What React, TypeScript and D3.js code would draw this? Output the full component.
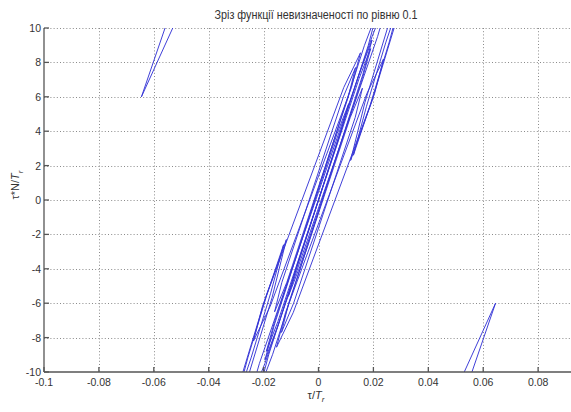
import React from "react";
import * as d3 from "d3";

// Plot frame
const W = 571;
const H = 412;
const X_RANGE: [number, number] = [44, 593];
const Y_RANGE: [number, number] = [372, 28];

// Axis domains and ticks
const xDomain: [number, number] = [-0.1, 0.1];
const yDomain: [number, number] = [-10, 10];
const xTickValues = [-0.1, -0.08, -0.06, -0.04, -0.02, 0, 0.02, 0.04, 0.06, 0.08];
const xTickLabels = ["-0.1", "-0.08", "-0.06", "-0.04", "-0.02", "0", "0.02", "0.04", "0.06", "0.08"];
const yTickValues = [-10, -8, -6, -4, -2, 0, 2, 4, 6, 8, 10];
const yTickLabels = ["-10", "-8", "-6", "-4", "-2", "0", "2", "4", "6", "8", "10"];

const titleText = "Зріз функції невизначеності по рівню 0.1";

// Level-0.1 contour loops of the ambiguity function: each loop runs from a
// lower tip to an upper tip (τ/T_r, τ·N/T_r), with a half width in τ/T_r
// and the fractions along the loop where it reaches full width.
const loopLowX = [-0.0645, 0.0395, -0.033, 0.0117, -0.0237, -0.0153, -0.016, -0.0135, -0.027, -0.0305, 0.0127, -0.0215, -0.0195, -0.019, -0.011];
const loopLowY = [6, -16, -13.5, 2.3, -8.2, -8.56, -6.5, -7.7, -12.5, -12, 2.6, -11, -9.3, -8.8, -5.6];
const loopHighX = [-0.0395, 0.0645, -0.0117, 0.033, 0.0153, 0.0237, 0.0135, 0.016, 0.027, -0.0127, 0.0305, 0.0195, 0.0215, 0.011, 0.019];
const loopHighY = [16, -6, -2.3, 13.5, 8.56, 8.2, 7.7, 6.5, 12.5, -2.6, 12, 9.3, 11, 5.6, 8.8];
const loopHalfWidth = [0.0014, 0.0014, 0.0012, 0.0012, 0.0014, 0.0014, 0.0009, 0.0009, 0.001, 0.0006, 0.0006, 0.0007, 0.0007, 0.0006, 0.0006];
const loopWideFrom = [0.4, 0.6, 0.3, 0.3, 0.12, 0.12, 0.12, 0.12, 0.12, 0.3, 0.3, 0.1, 0.1, 0.12, 0.12];
const loopWideTo = [0.4, 0.6, 0.7, 0.7, 0.88, 0.88, 0.88, 0.88, 0.88, 0.7, 0.7, 0.9, 0.9, 0.88, 0.88];

export default function App() {
  const x = d3.scaleLinear().domain(xDomain).range(X_RANGE);
  const y = d3.scaleLinear().domain(yDomain).range(Y_RANGE);

  const line = d3
    .line<[number, number]>()
    .x((d) => x(d[0]))
    .y((d) => y(d[1]))
    .curve(d3.curveLinearClosed);

  const loops = loopLowX.map((lx, i) => {
    const ly = loopLowY[i];
    const hx = loopHighX[i];
    const hy = loopHighY[i];
    const w = loopHalfWidth[i];
    const at = (t: number): [number, number] => [lx + (hx - lx) * t, ly + (hy - ly) * t];
    const a = at(loopWideFrom[i]);
    const b = at(loopWideTo[i]);
    const pts: [number, number][] = [
      [lx, ly],
      [a[0] - w, a[1]],
      [b[0] - w, b[1]],
      [hx, hy],
      [b[0] + w, b[1]],
      [a[0] + w, a[1]],
    ];
    return line(pts) as string;
  });

  const x0 = X_RANGE[0];
  const x1 = X_RANGE[1];
  const yTop = Y_RANGE[1];
  const yBot = Y_RANGE[0];
  const font = "'Liberation Sans', Arial, sans-serif";
  const textColor = "#333";

  return (
    <svg
      width={W}
      height={H}
      viewBox={`0 0 ${W} ${H}`}
      style={{ position: "absolute", left: 0, top: 0, background: "#fff" }}
    >
      <defs>
        <clipPath id="plot-area">
          <rect x={x0} y={yTop} width={x1 - x0} height={yBot - yTop} />
        </clipPath>
      </defs>
      <rect width={W} height={H} fill="#fff" />

      {/* dotted grid */}
      <g stroke="#8a8a8a" strokeWidth={1} strokeDasharray="1,2.2">
        {xTickValues
          .filter((v) => v !== xDomain[0])
          .map((v) => (
            <line key={"gx" + v} x1={Math.round(x(v)) + 0.5} x2={Math.round(x(v)) + 0.5} y1={yTop} y2={yBot} />
          ))}
        {yTickValues
          .filter((v) => v !== yDomain[0])
          .map((v) => (
            <line key={"gy" + v} x1={x0} x2={x1} y1={Math.round(y(v)) + 0.5} y2={Math.round(y(v)) + 0.5} />
          ))}
      </g>

      {/* contour loops */}
      <g clipPath="url(#plot-area)" fill="none" stroke="#3636d6" strokeWidth={0.95} strokeLinejoin="round">
        {loops.map((d, i) => (
          <path key={i} d={d} />
        ))}
      </g>

      {/* axes */}
      <g stroke="#555" strokeWidth={1.3}>
        <line x1={x0} x2={x0} y1={yTop} y2={yBot} />
        <line x1={x0} x2={x1} y1={yBot} y2={yBot} />
        {xTickValues.map((v) => (
          <line key={"tx" + v} x1={x(v)} x2={x(v)} y1={yBot} y2={yBot - 5} />
        ))}
        {yTickValues.map((v) => (
          <line key={"ty" + v} x1={x0} x2={x0 + 5} y1={y(v)} y2={y(v)} />
        ))}
      </g>

      {/* tick labels */}
      <g fontFamily={font} fontSize={10.5} fill={textColor}>
        {xTickValues.map((v, i) => (
          <text key={"lx" + v} x={x(v)} y={386} textAnchor="middle">
            {xTickLabels[i]}
          </text>
        ))}
        {yTickValues.map((v, i) => (
          <text key={"ly" + v} x={41} y={y(v) + 4} textAnchor="end">
            {yTickLabels[i]}
          </text>
        ))}
      </g>

      {/* title */}
      <text
        x={316}
        y={19}
        textAnchor="middle"
        fontFamily={font}
        fontSize={12}
        fill={textColor}
        textLength={203}
        lengthAdjust="spacingAndGlyphs"
      >
        {titleText}
      </text>

      {/* axis labels */}
      <text x={316} y={399} textAnchor="middle" fontFamily={font} fontSize={11} fill={textColor}>
        τ/<tspan fontStyle="italic">T</tspan>
        <tspan fontSize={8} fontStyle="italic" dy={3}>r</tspan>
      </text>
      <text
        transform="translate(19,185) rotate(-90)"
        textAnchor="middle"
        fontFamily={font}
        fontSize={11}
        fill={textColor}
      >
        τ*N/<tspan fontStyle="italic">T</tspan>
        <tspan fontSize={8} fontStyle="italic" dy={4}>r</tspan>
      </text>
    </svg>
  );
}
